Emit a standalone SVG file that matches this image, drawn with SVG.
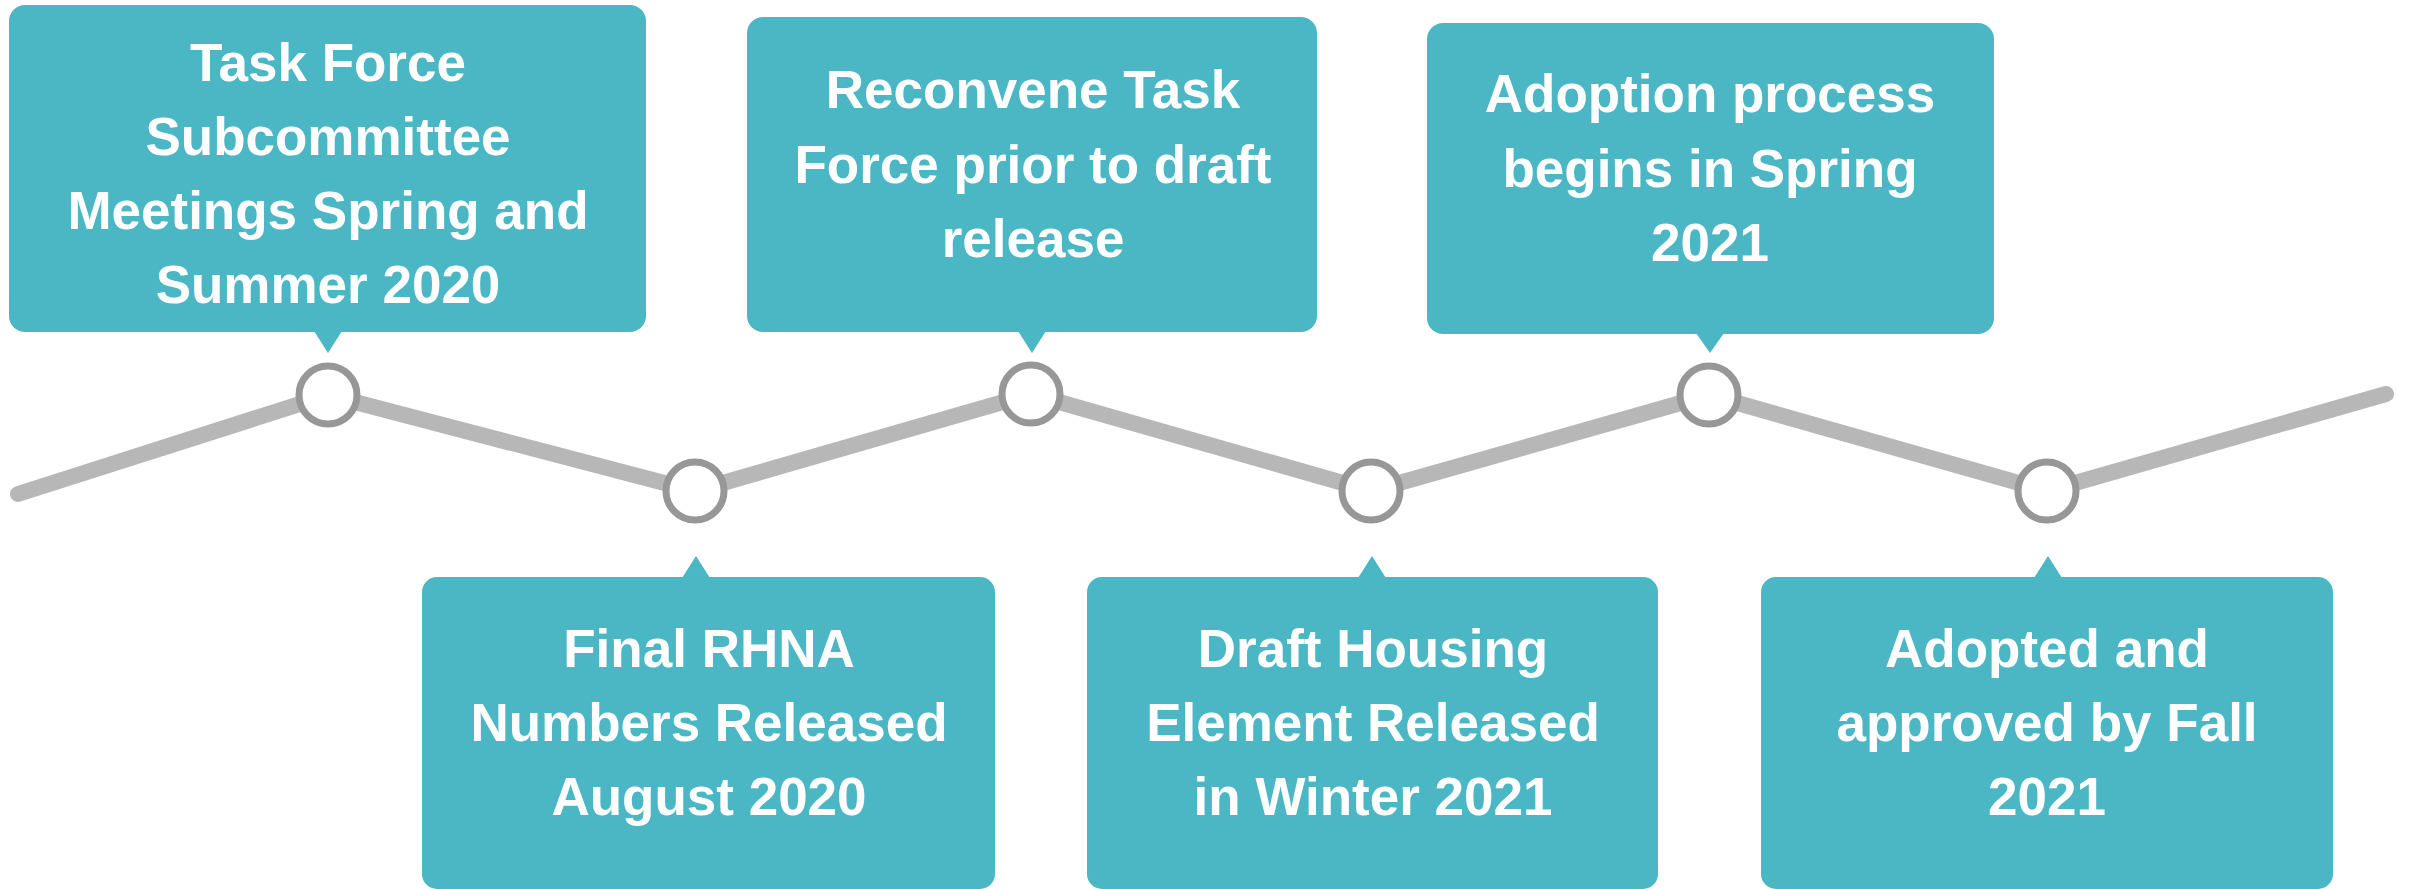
<svg xmlns="http://www.w3.org/2000/svg" width="2412" height="889" viewBox="0 0 2412 889">
<style>
.box{fill:#4BB6C4}
.lbl{font-family:"Liberation Sans",Arial,sans-serif;font-weight:bold;font-size:53px;fill:#FFFFFF;text-anchor:middle}
.dot{fill:#FFFFFF;stroke:#979797;stroke-width:7}
.track{fill:none;stroke:#B7B7B7;stroke-width:16;stroke-linecap:round;stroke-linejoin:round}
</style>
<rect width="2412" height="889" fill="#FFFFFF"/>
<g id="connectors">
<polyline class="track" points="18,494 328,395 695,491 1031,394 1371,491 1709,395 2047,491 2386,394"/>
</g>
<g id="node1">
<rect class="box" x="9" y="5" width="637" height="327" rx="16"/>
<polygon class="box" points="314,331 342,331 328,353"/>
<text class="lbl" x="328" y="81">Task Force</text>
<text class="lbl" x="328" y="155">Subcommittee</text>
<text class="lbl" x="328" y="229">Meetings Spring and</text>
<text class="lbl" x="328" y="303">Summer 2020</text>
<circle class="dot" cx="328" cy="395" r="29"/>
</g>
<g id="node2">
<rect class="box" x="422" y="577" width="573" height="312" rx="15"/>
<polygon class="box" points="682,578 710,578 696,556"/>
<text class="lbl" x="709" y="667">Final RHNA</text>
<text class="lbl" x="709" y="741">Numbers Released</text>
<text class="lbl" x="709" y="815">August 2020</text>
<circle class="dot" cx="695" cy="491" r="29"/>
</g>
<g id="node3">
<rect class="box" x="747" y="17" width="570" height="315" rx="16"/>
<polygon class="box" points="1018,331 1046,331 1032,353"/>
<text class="lbl" x="1033" y="108">Reconvene Task</text>
<text class="lbl" x="1033" y="183">Force prior to draft</text>
<text class="lbl" x="1033" y="257">release</text>
<circle class="dot" cx="1031" cy="394" r="29"/>
</g>
<g id="node4">
<rect class="box" x="1087" y="577" width="571" height="312" rx="15"/>
<polygon class="box" points="1358,578 1386,578 1372,556"/>
<text class="lbl" x="1373" y="667">Draft Housing</text>
<text class="lbl" x="1373" y="741">Element Released</text>
<text class="lbl" x="1373" y="815">in Winter 2021</text>
<circle class="dot" cx="1371" cy="491" r="29"/>
</g>
<g id="node5">
<rect class="box" x="1427" y="23" width="567" height="311" rx="16"/>
<polygon class="box" points="1696,333 1724,333 1710,353"/>
<text class="lbl" x="1710" y="112">Adoption process</text>
<text class="lbl" x="1710" y="187">begins in Spring</text>
<text class="lbl" x="1710" y="261">2021</text>
<circle class="dot" cx="1709" cy="395" r="29"/>
</g>
<g id="node6">
<rect class="box" x="1761" y="577" width="572" height="312" rx="15"/>
<polygon class="box" points="2034,578 2062,578 2048,556"/>
<text class="lbl" x="2047" y="667">Adopted and</text>
<text class="lbl" x="2047" y="741">approved by Fall</text>
<text class="lbl" x="2047" y="815">2021</text>
<circle class="dot" cx="2047" cy="491" r="29"/>
</g>
</svg>
